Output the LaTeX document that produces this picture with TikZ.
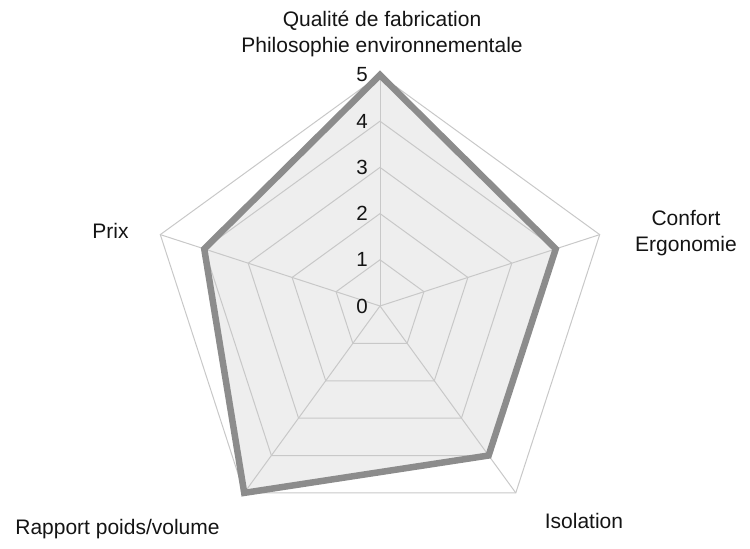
\documentclass[tikz,border=0pt]{standalone}
\usepackage{fontspec}
\setmainfont{Liberation Sans}
\usetikzlibrary{calc}
\definecolor{gridc}{RGB}{200,200,200}
\definecolor{datac}{RGB}{140,140,140}
\definecolor{fillc}{RGB}{238,238,238}
\definecolor{txtc}{RGB}{20,20,20}
\tikzset{
  gridline/.style={draw=gridc, line width=1pt},
  dataline/.style={draw=datac, line width=6.5pt, line join=miter},
  datafill/.style={fill=fillc},
  lbl/.style={font=\fontsize{21}{26}\selectfont, text=txtc, inner sep=0pt, align=center},
  tick/.style={font=\fontsize{20.5}{24}\selectfont, text=txtc, inner sep=0pt, anchor=east}
}
\begin{document}
\begin{tikzpicture}[x=1pt,y=1pt]
\useasboundingbox (0,0) rectangle (750,549);
\coordinate (C) at (380,243);
\begin{scope}[shift={(C)}]
  \foreach \k in {1,...,5}{
    \coordinate (q\k) at (90:46.2*\k);
    \coordinate (c\k) at (18:46.2*\k);
    \coordinate (i\k) at (-54:46.2*\k);
    \coordinate (r\k) at (-126:46.2*\k);
    \coordinate (p\k) at (162:46.2*\k);
  }
\end{scope}
% data fill
\path[datafill] (q5) -- (c4) -- (i4) -- (r5) -- (p4) -- cycle;
% grid
\foreach \k in {1,...,5}{
  \draw[gridline] (q\k) -- (c\k) -- (i\k) -- (r\k) -- (p\k) -- cycle;
}
\foreach \n in {q,c,i,r,p}{
  \draw[gridline] (C) -- (\n5);
}
% data outline
\draw[dataline] (q5) -- (c4) -- (i4) -- (r5) -- (p4) -- cycle;
% tick labels
\foreach \k in {0,...,5}{
  \node[tick] (t\k) at (368,243+46.2*\k) {\k};
}
% axis labels
\node[lbl, anchor=base] (lq) at (382,496) {Qualité de fabrication\\Philosophie environnementale};
\node[lbl, anchor=base] (lc) at (686,297) {Confort\\Ergonomie};
\node[lbl, anchor=base] (lp) at (110.5,310) {Prix};
\node[lbl, anchor=base] (lr) at (117.5,14) {Rapport poids/volume};
\node[lbl, anchor=base] (li) at (584,20) {Isolation};
\end{tikzpicture}
\end{document}
